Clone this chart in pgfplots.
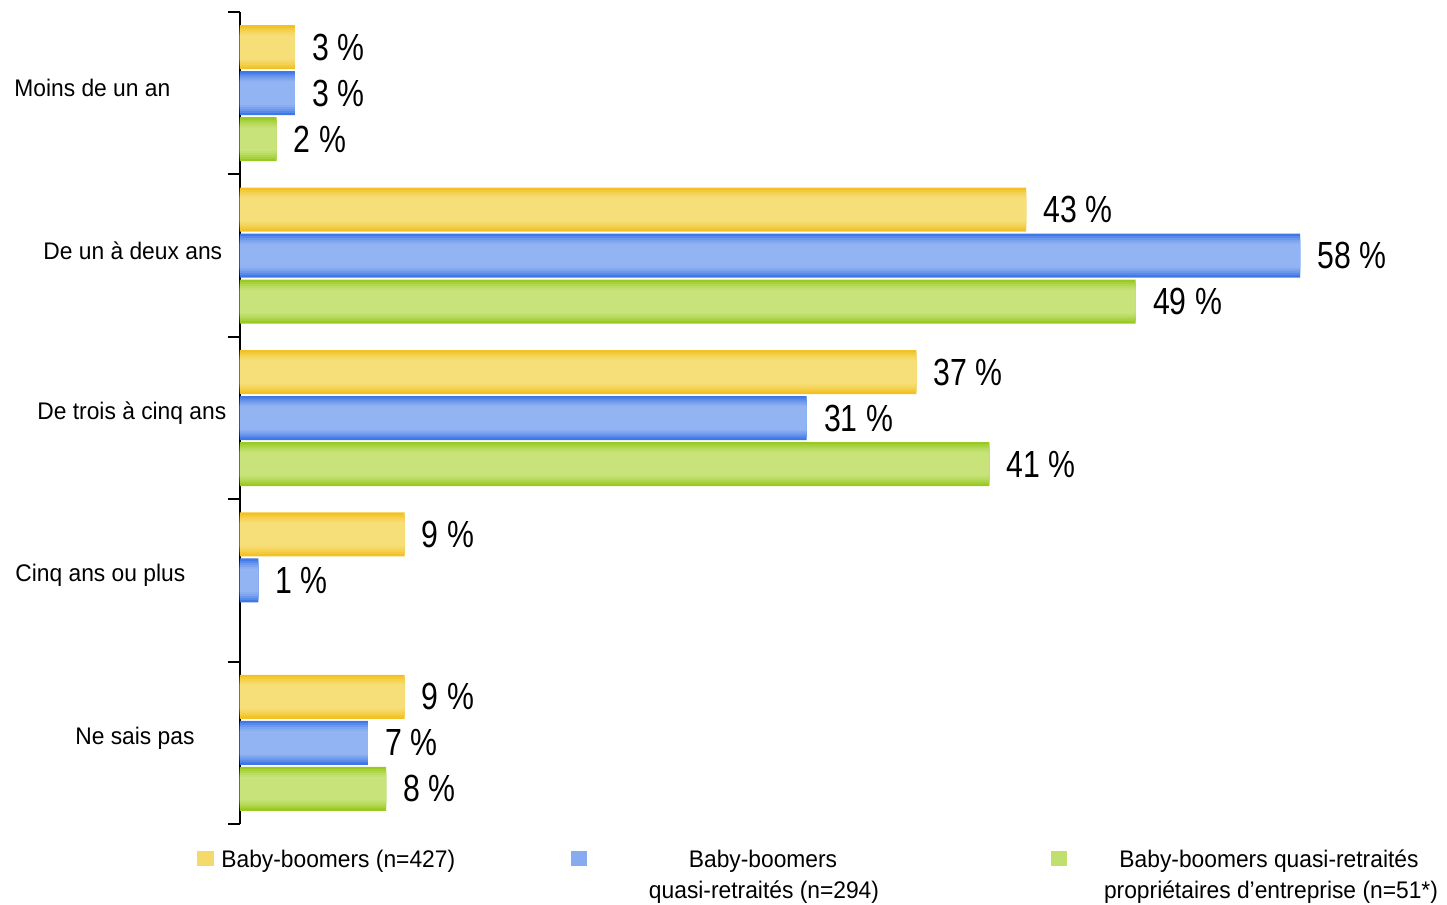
\documentclass[border=0pt]{standalone}
\usepackage{pgfplots}
\usepackage{pgfplotstable}
\pgfplotsset{compat=1.18}
\usepackage{fontspec}
\setmainfont{Liberation Sans}
\newfontfamily\valfont[FakeStretch=0.8]{Liberation Sans}
\newfontfamily\catfont[FakeStretch=0.95]{Liberation Sans}

\definecolor{yelD}{HTML}{F2C224}
\definecolor{yelL}{HTML}{F6DE78}
\definecolor{bluD}{HTML}{3F78E6}
\definecolor{bluL}{HTML}{93B4F2}
\definecolor{grnD}{HTML}{99CA22}
\definecolor{grnL}{HTML}{C7E37A}

% x = share (%), y = category (0 = Ne sais pas ... 4 = Moins de un an)
\pgfplotstableread{
x y
9 0
9 1
37 2
43 3
3 4
}\yeltab
\pgfplotstableread{
x y
7 0
1 1
31 2
58 3
3 4
}\blutab
\pgfplotstableread{
x y
8 0
41 2
49 3
2 4
}\grntab

% bars with a light centre band: stacked layers of shrinking width
\newcommand\gradbars[4]{%
  \addplot[draw=none, fill=#2, bar shift=#4, bar width=22pt,
    nodes near coords={\pgfmathprintnumber{\pgfplotspointmeta}~\%}] table {#1};
  \addplot[draw=none, fill=#3!28!#2, bar shift=#4, bar width=19.6pt] table {#1};
  \addplot[draw=none, fill=#3!52!#2, bar shift=#4, bar width=17.6pt] table {#1};
  \addplot[draw=none, fill=#3!72!#2, bar shift=#4, bar width=15.6pt] table {#1};
  \addplot[draw=none, fill=#3!88!#2, bar shift=#4, bar width=13.6pt] table {#1};
  \addplot[draw=none, fill=#3, bar shift=#4, bar width=11.8pt] table {#1};
}

\begin{document}
\begin{tikzpicture}
\useasboundingbox (0,0) rectangle (723.5pt,-452.5pt);
\begin{axis}[
    at={(120pt,-412pt)}, anchor=south west,
    x=9.14pt, y=81.2pt,
    xmin=0, xmax=62,
    ymin=-0.5, ymax=4.5,
    xbar,
    hide x axis,
    axis y line=left,
    axis line style={line width=1pt, -},
    ytick={0,1,2,3,4},
    yticklabels={\hspace*{37.5pt}Ne sais pas,
                 \hspace*{7.5pt}Cinq ans ou plus,
                 \hspace*{18.5pt}De trois à cinq ans,
                 \hspace*{21.5pt}De un à deux ans,
                 \hspace*{7pt}Moins de un an},
    major tick length=0pt,
    minor ytick={-0.5,0.5,1.5,2.5,3.5,4.5},
    minor tick length=6pt,
    tick align=outside,
    tick style={line width=1pt, black},
    yticklabel style={anchor=west, xshift=-120pt, yshift=2.5pt, inner sep=0pt,
        font=\catfont\fontsize{12pt}{14pt}\selectfont},
    /pgf/number format/assume math mode=true,
    nodes near coords style={anchor=west, inner sep=0pt, xshift=8.5pt,
        font=\valfont\fontsize{18.9pt}{22pt}\selectfont, text=black},
    clip=false,
]
\gradbars{\yeltab}{yelD}{yelL}{23pt}
\gradbars{\blutab}{bluD}{bluL}{0pt}
\gradbars{\grntab}{grnD}{grnL}{-23pt}
\end{axis}

% legend
\begin{scope}[font=\catfont\fontsize{12pt}{13pt}\selectfont]
\fill[yelL!85!yelD] (98.5pt,-425.5pt) rectangle +(8.5pt,-7.5pt);
\node[anchor=base west, inner sep=0pt] at (110.5pt,-433.5pt) {Baby-boomers (n=427)};
\fill[bluL!85!bluD] (285.5pt,-425.5pt) rectangle +(8pt,-7.5pt);
\node[anchor=base, inner sep=0pt] at (381.5pt,-433.5pt) {Baby-boomers};
\node[anchor=base, inner sep=0pt] at (382pt,-449pt) {quasi-retraités (n=294)};
\fill[grnL!85!grnD] (525.5pt,-425.5pt) rectangle +(8pt,-7.5pt);
\node[anchor=base, inner sep=0pt] at (634.5pt,-433.5pt) {Baby-boomers quasi-retraités};
\node[anchor=base, inner sep=0pt] at (635.5pt,-449pt) {propriétaires d’entreprise (n=51*)};
\end{scope}
\end{tikzpicture}
\end{document}
